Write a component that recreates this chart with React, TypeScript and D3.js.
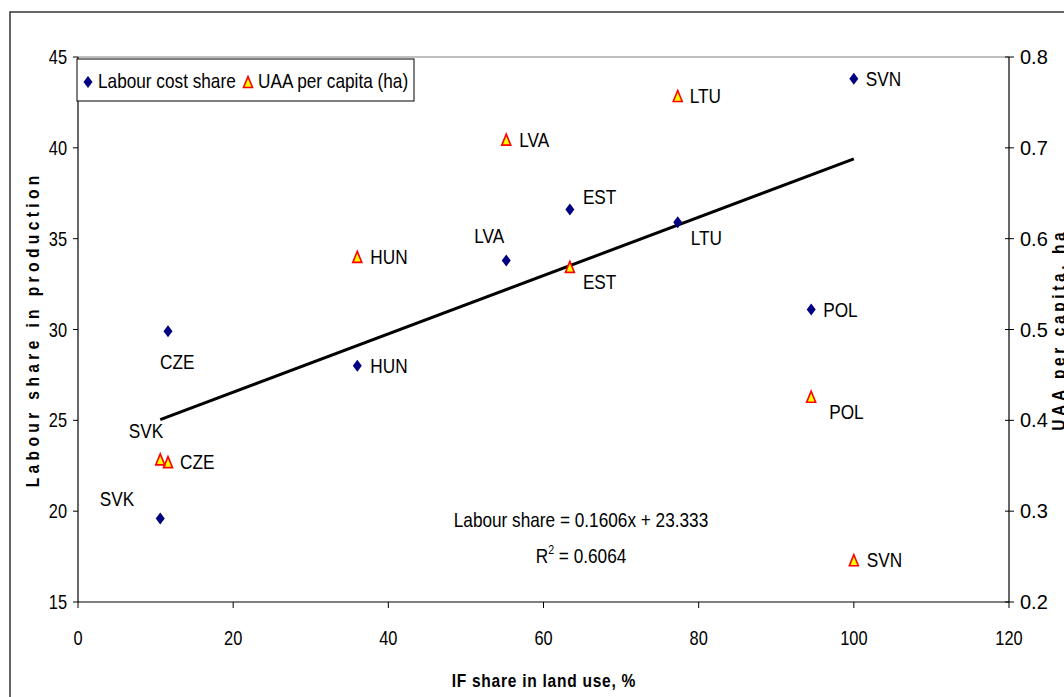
import * as d3 from "d3";

// data
const countries = ["CZE", "EST", "HUN", "LVA", "LTU", "POL", "SVK", "SVN"];
const ifShare = [11.6, 63.4, 36.0, 55.2, 77.3, 94.5, 10.6, 100];
const labourShare = [29.9, 36.6, 28.0, 33.8, 35.9, 31.1, 19.6, 43.8];
const uaaPerCapita = [0.354, 0.569, 0.58, 0.709, 0.757, 0.426, 0.357, 0.246];
const trendSlope = 0.1606;
const trendIntercept = 23.333;
const trendR2 = "0.6064";

const xTicks = [0, 20, 40, 60, 80, 100, 120];
const yLeftTicks = [15, 20, 25, 30, 35, 40, 45];
const yRightTicks = [0.2, 0.3, 0.4, 0.5, 0.6, 0.7, 0.8];

// label placement (dx, dy, anchor) like excel put them
const labourLabelPos: Record<string, [number, number, string]> = {
  SVN: [12, 7, "start"],
  EST: [13, -6, "start"],
  LTU: [13, 23, "start"],
  LVA: [-2, -17, "end"],
  HUN: [13, 7, "start"],
  POL: [12, 7, "start"],
  CZE: [-8, 38, "start"],
  SVK: [-26, -12, "end"],
};
const uaaLabelPos: Record<string, [number, number, string]> = {
  LTU: [12, 7, "start"],
  LVA: [13, 7, "start"],
  HUN: [13, 7, "start"],
  EST: [13, 22, "start"],
  POL: [18, 22, "start"],
  SVN: [13, 7, "start"],
  CZE: [12, 7, "start"],
  SVK: [3, -21, "end"],
};

const W = 1064;
const H = 697;
const left = 78, right = 1009, top = 57, bottom = 602;
const FONT = "'Liberation Sans', Arial, sans-serif";
const NARROW = 0.82;

const diamond = "M0,-6L4.5,0L0,6L-4.5,0Z";
const triangle = "M0,-5.5L4.5,5.5L-4.5,5.5Z";

// arial narrow look: squeeze liberation sans horizontally
function NText(props: any) {
  const { x, y, rotate = 0, size = 21, weight = "normal", anchor = "start", children, ls, tl } = props;
  return (
    <g transform={`translate(${x},${y}) rotate(${rotate}) scale(${NARROW},1)`}>
      <text
        fontFamily={FONT}
        fontSize={size}
        fontWeight={weight}
        textAnchor={anchor}
        letterSpacing={ls}
        textLength={tl}
        lengthAdjust={tl ? "spacing" : undefined}
        fill="#000"
      >
        {children}
      </text>
    </g>
  );
}

export default function App() {
  const x = d3.scaleLinear().domain([0, 120]).range([left, right]);
  const yL = d3.scaleLinear().domain([15, 45]).range([bottom, top]);
  const yR = d3.scaleLinear().domain([0.2, 0.8]).range([bottom, top]);

  const xMin = d3.min(ifShare) as number;
  const xMax = d3.max(ifShare) as number;
  const trendLine = d3.line<number>()
    .x((d) => x(d))
    .y((d) => yL(trendSlope * d + trendIntercept))([xMin, xMax]);

  return (
    <svg width={W} height={H} style={{ position: "absolute", left: 0, top: 0, background: "#fff" }}>
      <rect x={0} y={0} width={W} height={H} fill="#fff" />
      {/* outer chart frame, runs off the page */}
      <path d={`M${W + 10},12H10V${H + 10}`} fill="none" stroke="#333" strokeWidth={1.5} />

      {/* plot area */}
      <line x1={left} x2={right} y1={top} y2={top} stroke="#808080" strokeWidth={1.2} />
      <line x1={left} x2={right} y1={bottom} y2={bottom} stroke="#000" strokeWidth={1.2} />
      <line x1={left} x2={left} y1={top} y2={bottom} stroke="#000" strokeWidth={1.2} />
      <line x1={right} x2={right} y1={top} y2={bottom} stroke="#000" strokeWidth={1.2} />

      {xTicks.map((t) => (
        <g key={"x" + t}>
          <line x1={x(t)} x2={x(t)} y1={bottom} y2={bottom + 6} stroke="#000" />
          <NText x={x(t)} y={bottom + 43} size={20} anchor="middle">{t}</NText>
        </g>
      ))}
      {yLeftTicks.map((t) => (
        <g key={"yl" + t}>
          <line x1={left - 5} x2={left} y1={yL(t)} y2={yL(t)} stroke="#000" />
          <NText x={left - 11} y={yL(t) + 7} size={20} anchor="end">{t}</NText>
        </g>
      ))}
      {yRightTicks.map((t) => (
        <g key={"yr" + t}>
          <line x1={right - 4} x2={right + 5} y1={yR(t)} y2={yR(t)} stroke="#000" />
          <text x={right + 11} y={yR(t) + 7} fontFamily={FONT} fontSize={20}>{t.toFixed(1)}</text>
        </g>
      ))}

      {/* axis titles */}
      <NText x={39} y={(top + bottom) / 2 + 2} rotate={-90} size={19} weight="bold" anchor="middle" tl={380}>
        Labour share in production
      </NText>
      <NText x={1065} y={(top + bottom) / 2 + 2} rotate={-90} size={19} weight="bold" anchor="middle" tl={242}>
        UAA per capita, ha
      </NText>
      <NText x={(left + right) / 2} y={687} size={19} weight="bold" anchor="middle" tl={224}>
        IF share in land use, %
      </NText>

      {/* trend line */}
      <path d={trendLine || ""} fill="none" stroke="#000" strokeWidth={3} />

      {/* series */}
      {countries.map((c, i) => {
        const px = x(ifShare[i]);
        const py = yR(uaaPerCapita[i]);
        const [dx, dy, a] = uaaLabelPos[c];
        return (
          <g key={"u" + c}>
            <path d={triangle} transform={`translate(${px},${py})`} fill="#ffff00" stroke="#ff0000" strokeWidth={1.6} />
            <NText x={px + dx} y={py + dy} anchor={a}>{c}</NText>
          </g>
        );
      })}
      {countries.map((c, i) => {
        const px = x(ifShare[i]);
        const py = yL(labourShare[i]);
        const [dx, dy, a] = labourLabelPos[c];
        return (
          <g key={"l" + c}>
            <path d={diamond} transform={`translate(${px},${py})`} fill="#000080" />
            <NText x={px + dx} y={py + dy} anchor={a}>{c}</NText>
          </g>
        );
      })}

      {/* regression text */}
      <NText x={581} y={527} anchor="middle">
        {`Labour share = ${trendSlope}x + ${trendIntercept}`}
      </NText>
      <NText x={581} y={563} anchor="middle">
        <tspan>R</tspan>
        <tspan fontSize={13} dy={-9}>2</tspan>
        <tspan dy={9}>{` = ${trendR2}`}</tspan>
      </NText>

      {/* legend */}
      <rect x={77} y={59} width={337} height={42} fill="#fff" stroke="#000" strokeWidth={1} />
      <path d={diamond} transform="translate(88,82)" fill="#000080" />
      <NText x={98} y={88}>Labour cost share</NText>
      <path d={triangle} transform="translate(248,82)" fill="#ffff00" stroke="#ff0000" strokeWidth={1.6} />
      <NText x={258} y={88}>UAA per capita (ha)</NText>
    </svg>
  );
}
